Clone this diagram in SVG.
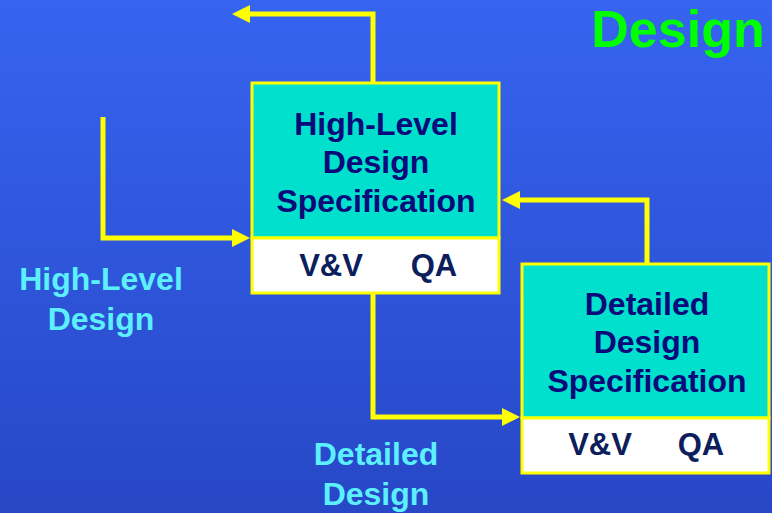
<svg xmlns="http://www.w3.org/2000/svg" width="772" height="513" viewBox="0 0 772 513">
  <defs>
    <linearGradient id="bg" x1="0" y1="0" x2="0" y2="1">
      <stop offset="0" stop-color="#3664F0"/>
      <stop offset="1" stop-color="#2747C6"/>
    </linearGradient>
    <marker id="arrow" markerUnits="userSpaceOnUse" markerWidth="20" markerHeight="20" viewBox="0 -10 18 20" refX="0" refY="0" orient="auto">
      <path d="M0,-9 L18,0 L0,9 z" fill="#FFFF00"/>
    </marker>
    <style>
      text { font-family: "Liberation Sans", Arial, sans-serif; font-weight: bold; text-anchor: middle; }
      .spec { fill: #00E0CC; stroke: #FFFF00; stroke-width: 3; }
      .check { fill: #FFFFFF; stroke: #FFFF00; stroke-width: 3; }
      .title { font-size: 32px; fill: #0A0A7A; }
      .vv { font-size: 31px; fill: #0C1E5C; }
      .label { font-size: 32px; fill: #5CF0FF; }
      .conn { fill: none; stroke: #FFFF00; stroke-width: 5; stroke-linejoin: miter; marker-end: url(#arrow); }
    </style>
  </defs>

  <rect x="0" y="0" width="772" height="513" fill="url(#bg)"/>

  <text x="678" y="47" style="font-size:52px; fill:#00FF00;">Design</text>

  <g id="connectors">
    <path class="conn" d="M373,83 V14 H250"/>
    <path class="conn" d="M103,117 V238 H232"/>
    <path class="conn" d="M647,263 V200 H520"/>
    <path class="conn" d="M373,293 V417 H502"/>
  </g>

  <g id="high-level-spec">
    <rect class="spec" x="252" y="83" width="247" height="155"/>
    <rect class="check" x="252" y="238" width="247" height="55"/>
    <text class="title" x="376" y="135">High-Level</text>
    <text class="title" x="376" y="173">Design</text>
    <text class="title" x="376" y="212">Specification</text>
    <text class="vv" x="331" y="276">V&amp;V</text>
    <text class="vv" x="434" y="276">QA</text>
  </g>

  <g id="detailed-spec">
    <rect class="spec" x="522" y="264" width="247" height="154"/>
    <rect class="check" x="522" y="418" width="247" height="55"/>
    <text class="title" x="647" y="315">Detailed</text>
    <text class="title" x="647" y="353">Design</text>
    <text class="title" x="647" y="392">Specification</text>
    <text class="vv" x="600" y="455">V&amp;V</text>
    <text class="vv" x="701" y="455">QA</text>
  </g>

  <g id="high-level-design">
    <text class="label" x="101" y="290">High-Level</text>
    <text class="label" x="101" y="330">Design</text>
  </g>

  <g id="detailed-design">
    <text class="label" x="376" y="465">Detailed</text>
    <text class="label" x="376" y="505">Design</text>
  </g>
</svg>
